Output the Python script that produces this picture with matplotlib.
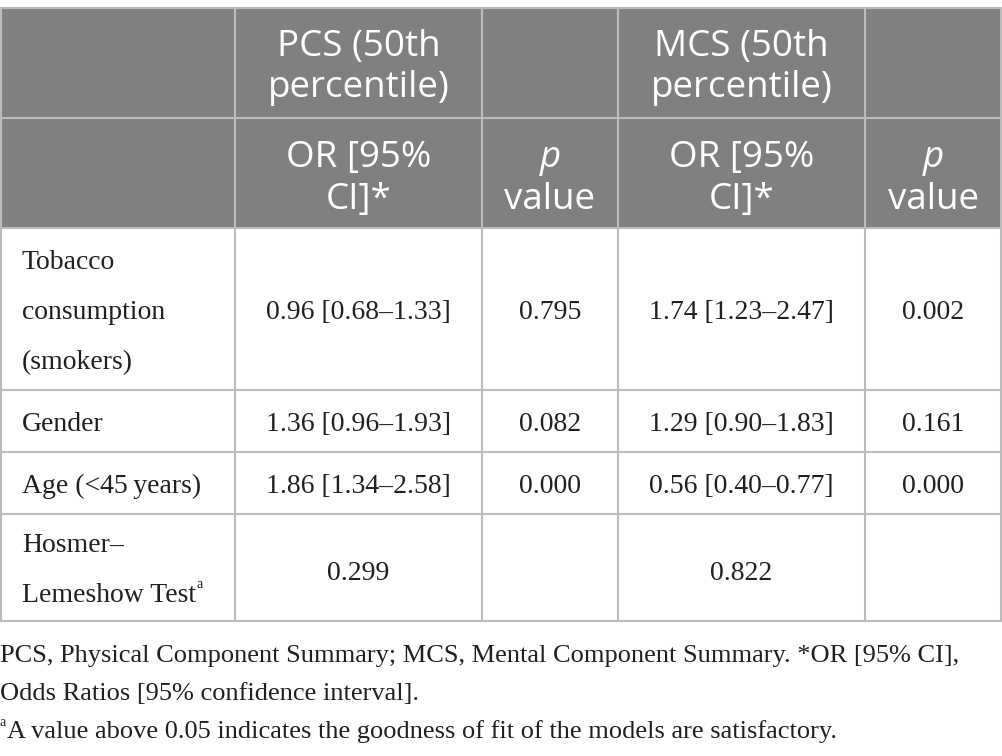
import matplotlib
matplotlib.use("Agg")
import matplotlib.pyplot as plt
from matplotlib.patches import Rectangle

# table content
header_top = ["", "PCS (50th\npercentile)", "", "MCS (50th\npercentile)", ""]
header_sub = ["", "OR [95%\nCI]*", "p\nvalue", "OR [95%\nCI]*", "p\nvalue"]
row_labels = ["Tobacco\nconsumption\n(smokers)", "Gender", "Age (<45\u2009years)"]
pcs_or = ["0.96 [0.68\u20131.33]", "1.36 [0.96\u20131.93]", "1.86 [1.34\u20132.58]"]
pcs_p = ["0.795", "0.082", "0.000"]
mcs_or = ["1.74 [1.23\u20132.47]", "1.29 [0.90\u20131.83]", "0.56 [0.40\u20130.77]"]
mcs_p = ["0.002", "0.161", "0.000"]
hl_label = "Hosmer\u2013\nLemeshow Test"
hl_values = ["0.299", "0.822"]
footnotes = [
    "PCS, Physical Component Summary; MCS, Mental Component Summary. *OR [95% CI],",
    "Odds Ratios [95% confidence interval].",
    "A value above 0.05 indicates the goodness of fit of the models are satisfactory.",
]

W, H = 1002, 756
col_x = [0, 235, 482, 618, 865, 1002]
row_y = [8, 118, 228, 390, 452, 514, 621]

HEAD_BG = "#808080"
GRID = "#bcbcbc"
TXT = "#231f20"
head_font = "Open Sans"
body_font = "Liberation Serif"
HFS = 26.5   # header font size
BFS = 20     # body font size

fig = plt.figure(figsize=(W / 100, H / 100), dpi=100)
ax = fig.add_axes([0, 0, 1, 1])
ax.set_xlim(0, W)
ax.set_ylim(H, 0)
ax.axis("off")

# header background
ax.add_patch(Rectangle((0, row_y[0]), W, row_y[2] - row_y[0], color=HEAD_BG, lw=0))

# grid lines
for y in row_y:
    ax.plot([0, W], [y, y], color=GRID, lw=1.5)
for x in col_x[1:-1]:
    ax.plot([x, x], [row_y[0], row_y[-1]], color=GRID, lw=1.5)
ax.plot([0.8, 0.8], [row_y[0], row_y[-1]], color=GRID, lw=1.5)
ax.plot([W - 0.8, W - 0.8], [row_y[0], row_y[-1]], color=GRID, lw=1.5)

def cx(i):
    return (col_x[i] + col_x[i + 1]) / 2

def cy(j):
    return (row_y[j] + row_y[j + 1]) / 2

def lines(x, base, text, gap, ha="center", **kw):
    # base = baseline of the middle of the block
    parts = text.split("\n")
    n = len(parts)
    out = []
    for k, p in enumerate(parts):
        y = base + (k - (n - 1) / 2) * gap
        out.append(ax.text(x, y, p, ha=ha, va="baseline", **kw))
    return out

# header text
for i, t in enumerate(header_top):
    if t:
        lines(cx(i), cy(0) + 14, t, 41, color="white", fontsize=HFS, family=head_font)
for i, t in enumerate(header_sub):
    if not t:
        continue
    if t.startswith("p\n"):
        ax.text(cx(i), cy(1) - 6, "p", ha="center", va="baseline", color="white",
                fontsize=HFS, family=head_font, style="italic")
        ax.text(cx(i), cy(1) + 36, "value", ha="center", va="baseline", color="white",
                fontsize=HFS, family=head_font)
    else:
        lines(cx(i), cy(1) + 15, t, 42, color="white", fontsize=HFS, family=head_font)

# body rows
for j in range(3):
    b = cy(j + 2) + 10
    lines(22, b, row_labels[j], 50, ha="left", color=TXT,
          fontsize=BFS, family=body_font)
    ax.text(cx(1), b, pcs_or[j], ha="center", va="baseline", color=TXT,
            fontsize=BFS, family=body_font)
    ax.text(cx(2), b, pcs_p[j], ha="center", va="baseline", color=TXT,
            fontsize=BFS, family=body_font)
    ax.text(cx(3), b, mcs_or[j], ha="center", va="baseline", color=TXT,
            fontsize=BFS, family=body_font)
    ax.text(cx(4), b, mcs_p[j], ha="center", va="baseline", color=TXT,
            fontsize=BFS, family=body_font)

# Hosmer-Lemeshow row
hl = lines(22, cy(5) + 10, hl_label, 50, ha="left", color=TXT,
           fontsize=BFS, family=body_font)
ax.text(cx(1), cy(5) + 12, hl_values[0], ha="center", va="baseline", color=TXT,
        fontsize=BFS, family=body_font)
ax.text(cx(3), cy(5) + 12, hl_values[1], ha="center", va="baseline", color=TXT,
        fontsize=BFS, family=body_font)

# footnotes
ax.text(0, 662, footnotes[0], ha="left", va="baseline", color=TXT,
        fontsize=19, family=body_font)
ax.text(0, 700, footnotes[1], ha="left", va="baseline", color=TXT,
        fontsize=19, family=body_font)
ax.text(7, 738, footnotes[2], ha="left", va="baseline", color=TXT,
        fontsize=19, family=body_font)
ax.text(0, 726, "a", ha="left", va="baseline", color=TXT, fontsize=10, family=body_font)

# superscript after "Lemeshow Test"
fig.canvas.draw()
r = fig.canvas.get_renderer()
bb = hl[1].get_window_extent(r)
x_end, _ = ax.transData.inverted().transform((bb.x1, bb.y1))
ax.text(x_end + 1, cy(5) + 21, "a", ha="left", va="baseline", color=TXT,
        fontsize=10, family=body_font)

fig.savefig("out.png", dpi=100, facecolor="white")
